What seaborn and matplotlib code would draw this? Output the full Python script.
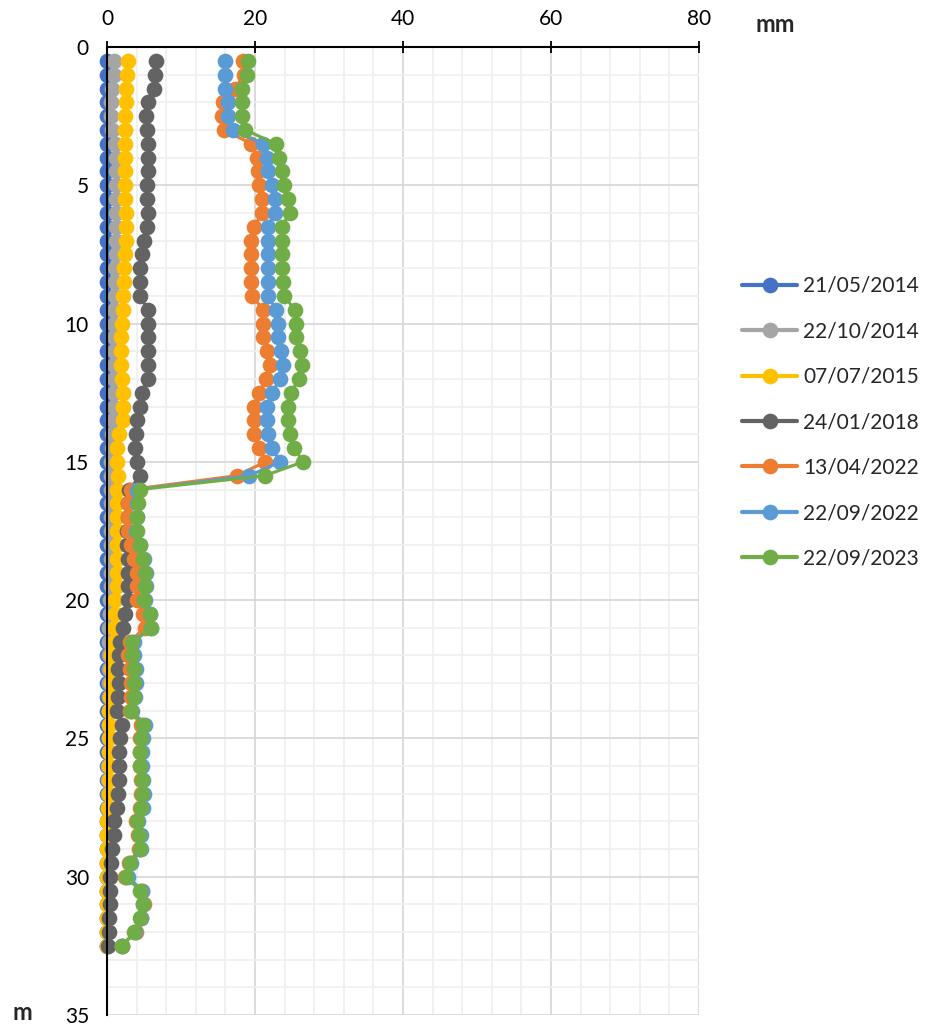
import numpy as np
import pandas as pd
import seaborn as sns
import matplotlib.pyplot as plt
from matplotlib.ticker import MultipleLocator

# depth of each reading (m)
depth = [0.5, 1.0, 1.5, 2.0, 2.5, 3.0, 3.5, 4.0, 4.5, 5.0, 5.5, 6.0, 6.5, 7.0, 7.5,
         8.0, 8.5, 9.0, 9.5, 10.0, 10.5, 11.0, 11.5, 12.0, 12.5, 13.0, 13.5, 14.0,
         14.5, 15.0, 15.5, 16.0, 16.5, 17.0, 17.5, 18.0, 18.5, 19.0, 19.5, 20.0,
         20.5, 21.0, 21.5, 22.0, 22.5, 23.0, 23.5, 24.0, 24.5, 25.0, 25.5, 26.0,
         26.5, 27.0, 27.5, 28.0, 28.5, 29.0, 29.5, 30.0, 30.5, 31.0, 31.5, 32.0, 32.5]

dates = ['21/05/2014', '22/10/2014', '07/07/2015', '24/01/2018',
         '13/04/2022', '22/09/2022', '22/09/2023']
colors = ['#4472C4', '#A5A5A5', '#FFC000', '#636363', '#ED7D31', '#5B9BD5', '#70AD47']

# cumulative displacement (mm) per reading date
d_20140521 = [0.0] * 65
d_20141022 = [0.95, 0.95, 0.65, 0.55, 0.55, 0.7,
              1.1, 1.2, 1.2, 1.2, 1.2, 1.2, 1.2, 1.2, 1.2, 1.1, 1.1, 1.1,
              1.0, 1.0, 0.9, 0.9, 0.9, 0.9,
              0.9, 0.9, 0.8, 0.7, 0.7, 0.6, 0.6,
              0.6, 0.6, 0.5, 0.5, 0.5, 0.5, 0.5, 0.5, 0.4,
              0.4, 0.3, 0.3, 0.3, 0.3, 0.2, 0.2, 0.2,
              0.2, 0.2, 0.2, 0.1, 0.1, 0.1, 0.1, 0.1, 0.0, 0.0, 0.0, 0.0, 0.0,
              0.0, 0.0, 0.0, 0.0]
d_20150707 = [2.8, 2.7, 2.6, 2.5, 2.4, 2.4, 2.4, 2.4, 2.4, 2.4, 2.4, 2.5, 2.5,
              2.5, 2.4, 2.3, 2.3, 2.2, 2.1, 2.0, 1.9, 1.9, 1.9, 2.0, 2.2, 2.2,
              2.1, 1.6, 1.4, 1.3, 1.5, 1.4, 1.3, 1.3, 1.3, 1.3, 1.3, 1.3, 1.3,
              1.1, 1.1, 0.9, 0.9, 0.6, 0.5, 0.5, 0.4, 0.3, 0.3, 0.3, 0.2, 0.2,
              0.2, 0.2, 0.1, 0.0, 0.0, 0.0, 0.0, 0.0, 0.0, 0.0, 0.0, 0.0, 0.0]
d_20180124 = [6.6, 6.5, 6.4, 5.6, 5.3, 5.4, 5.6, 5.5, 5.5, 5.4, 5.4, 5.5, 5.4,
              5.0, 4.7, 4.5, 4.5, 4.5, 5.5, 5.5, 5.5, 5.5, 5.5, 5.5, 4.7, 4.5,
              4.1, 3.9, 3.8, 4.1, 4.5, 3.0, 2.8, 2.8, 2.7, 2.7, 2.9, 2.9, 2.9,
              2.9, 2.4, 2.1, 1.8, 1.6, 1.5, 1.6, 1.5, 1.3, 2.0, 1.8, 1.6, 1.6,
              1.6, 1.5, 1.4, 1.0, 0.9, 0.7, 0.5, 0.4, 0.4, 0.4, 0.3, 0.2, 0.1]
d_20220413 = [18.4, 18.5, 17.3, 15.7, 15.6, 15.8, 19.5, 20.2, 20.4, 20.5, 20.9,
              21.0, 19.8, 19.5, 19.5, 19.5, 19.5, 19.6, 21.1, 21.1, 21.1, 21.6,
              22.0, 21.5, 20.5, 19.9, 19.9, 19.9, 20.5, 21.4, 17.5, 3.2, 2.9,
              2.8, 2.9, 3.2, 3.6, 4.0, 4.1, 4.1, 4.9, 5.1, 3.1, 2.9, 3.1, 3.2,
              3.3, 3.1, 4.6, 4.5, 4.4, 4.4, 4.6, 4.6, 4.5, 3.9, 4.2, 4.3, 3.0,
              2.4, 4.7, 5.0, 4.6, 3.9, 2.0]
d_20220922 = [16.0, 16.0, 16.0, 16.3, 16.4, 17.0, 21.1, 21.6, 21.8, 22.3, 22.7,
              22.7, 21.7, 21.7, 21.7, 21.7, 21.7, 21.7, 22.9, 23.1, 23.1, 23.5,
              23.8, 23.4, 22.3, 21.6, 21.6, 21.7, 22.3, 23.4, 19.2, 4.1, 4.1,
              4.0, 3.9, 4.5, 5.0, 5.2, 5.2, 5.1, 5.8, 6.0, 3.6, 3.6, 3.9, 3.9,
              3.8, 3.4, 5.1, 4.8, 4.7, 4.7, 4.9, 5.0, 4.8, 4.2, 4.6, 4.6, 3.3,
              2.9, 4.7, 4.9, 4.6, 3.8, 2.0]
d_20230922 = [19.0, 18.9, 18.2, 18.2, 18.2, 18.7, 22.8, 23.3, 23.7, 23.9, 24.4,
              24.7, 23.6, 23.7, 23.7, 23.7, 23.8, 23.9, 25.4, 25.5, 25.5, 26.1,
              26.4, 25.9, 24.9, 24.4, 24.5, 24.7, 25.3, 26.5, 21.3, 4.4, 4.2,
              4.1, 4.0, 4.4, 4.9, 5.1, 5.1, 5.0, 5.8, 6.0, 3.4, 3.4, 3.7, 3.7,
              3.7, 3.3, 4.9, 4.6, 4.5, 4.5, 4.7, 4.7, 4.6, 4.0, 4.3, 4.4, 3.1,
              2.5, 4.5, 4.8, 4.5, 3.7, 2.0]

series = [d_20140521, d_20141022, d_20150707, d_20180124,
          d_20220413, d_20220922, d_20230922]

frames = []
for date, vals in zip(dates, series):
    frames.append(pd.DataFrame({'date': date, 'depth': depth, 'disp': vals}))
df = pd.concat(frames, ignore_index=True)

sns.set_style('white')
plt.rcParams['font.family'] = ['Lato', 'DejaVu Sans']

fig = plt.figure(figsize=(9.25, 10.29), dpi=100)
ax = fig.add_axes([0.1157, 0.0136, 0.64, 0.9407])

sns.lineplot(data=df, x='disp', y='depth', hue='date', hue_order=dates,
             palette=colors, orient='y', sort=False, estimator=None,
             marker='o', markersize=11.3, markeredgewidth=0, linewidth=2.2,
             clip_on=False, ax=ax)

ax.set_xlim(0, 80)
ax.set_ylim(35, 0)
ax.xaxis.set_major_locator(MultipleLocator(20))
ax.xaxis.set_minor_locator(MultipleLocator(4))
ax.yaxis.set_major_locator(MultipleLocator(5))
ax.yaxis.set_minor_locator(MultipleLocator(1))
ax.grid(which='major', color='#d9d9d9', linewidth=1.3)
ax.grid(which='minor', color='#f0f0f0', linewidth=1.3)
ax.set_axisbelow(True)

ax.xaxis.tick_top()
ax.tick_params(axis='x', which='major', direction='inout', length=8, width=1.3,
               labelsize=15, pad=9, colors='black')
ax.tick_params(axis='y', which='major', direction='out', length=6, width=1.3,
               labelsize=15, pad=7, colors='black')
ax.tick_params(which='minor', length=0)
ax.set_xlabel('')
ax.set_ylabel('')

for side in ['right', 'bottom']:
    ax.spines[side].set_visible(False)
for side in ['top', 'left']:
    ax.spines[side].set_color('black')
    ax.spines[side].set_linewidth(1.5)

handles, labels = ax.get_legend_handles_labels()
for h in handles:
    h.set_linewidth(3)
ax.legend(handles, labels, loc='upper left', frameon=False, fontsize=15,
          bbox_to_anchor=(742 / 925, 1 - 276 / 1029),
          bbox_transform=fig.transFigure, borderaxespad=0, borderpad=0,
          handlelength=2.65, handletextpad=0.3, labelspacing=1.22)

fig.text(775 / 925, 1 - 25 / 1029, 'mm', ha='center', va='center',
         fontsize=17, fontweight='bold')
fig.text(22 / 925, 1 - 1012 / 1029, 'm', ha='center', va='center',
         fontsize=17, fontweight='bold')

fig.savefig('out.png', dpi=100)
